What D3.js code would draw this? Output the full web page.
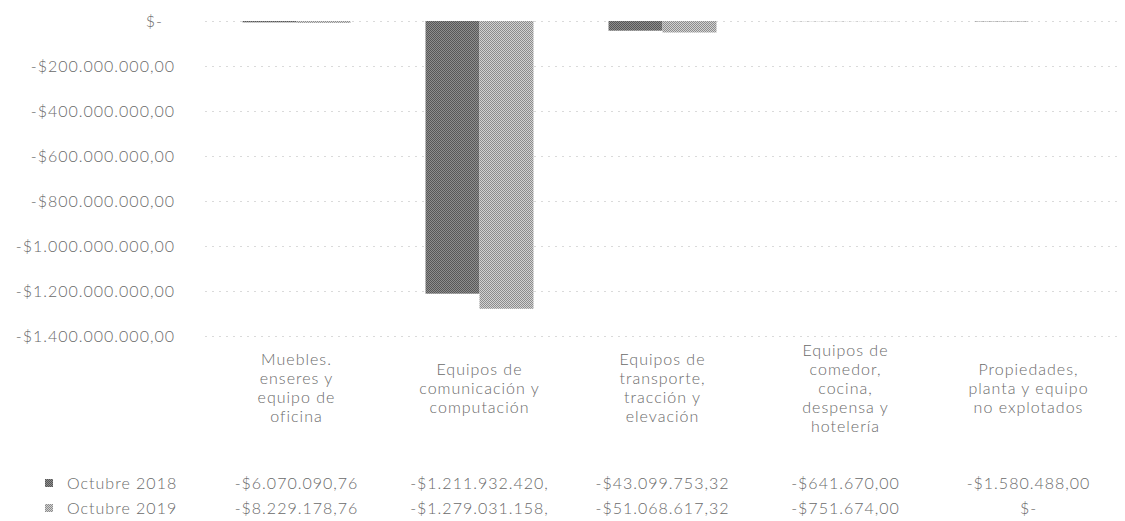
<!DOCTYPE html>
<html>
<head>
<meta charset="utf-8">
<script src="https://cdn.jsdelivr.net/npm/d3@7"></script>
<style>
  body { margin: 0; background: #fff; }
  text { font-family: Lato, "Open Sans", sans-serif; font-weight: 300; fill: #6a6a6a; letter-spacing: 1px; }
</style>
</head>
<body>
<div id="chart"></div>
<script>
// data
const categories = [
  "Muebles.\nenseres y\nequipo de\noficina",
  "Equipos de\ncomunicación y\ncomputación",
  "Equipos de\ntransporte,\ntracción y\nelevación",
  "Equipos de\ncomedor,\ncocina,\ndespensa y\nhotelería",
  "Propiedades,\nplanta y equipo\nno explotados"
];
const seriesNames = ["Octubre 2018", "Octubre 2019"];
const oct2018 = [-6070090.76, -1211932420.00, -43099753.32, -641670.00, -1580488.00];
const oct2019 = [-8229178.76, -1279031158.00, -51068617.32, -751674.00, 0];
const yTicks = [0, -200e6, -400e6, -600e6, -800e6, -1000e6, -1200e6, -1400e6];

const W = 1125, H = 521;
const margin = { left: 205, right: 5, top: 21 },
  plotBottom = 336;

const locale = d3.formatLocale({
  decimal: ",", thousands: ".", grouping: [3], currency: ["$", ""], minus: "-"
});
const money = locale.format("$,.2f");
// accounting style: zero shows as "$-"
function fmt(v) {
  return v === 0 ? "$-" : money(v);
}

const svg = d3.select("#chart").append("svg")
  .attr("width", W)
  .attr("height", H);

// halftone-ish fills like the scanned original
const defs = svg.append("defs");
const fills = [["#575757", "#8e8e8e"], ["#8c8c8c", "#d2d2d2"]];
fills.forEach(function(c, i) {
  const p = defs.append("pattern")
    .attr("id", "fill" + i)
    .attr("patternUnits", "userSpaceOnUse")
    .attr("width", 2).attr("height", 2);
  p.append("rect").attr("width", 2).attr("height", 2).attr("fill", c[1]);
  p.append("rect").attr("width", 1).attr("height", 1).attr("fill", c[0]);
  p.append("rect").attr("x", 1).attr("y", 1).attr("width", 1).attr("height", 1).attr("fill", c[0]);
});

const x = d3.scaleBand()
  .domain(d3.range(categories.length))
  .range([margin.left, W - margin.right])
  .paddingInner(0.41)
  .paddingOuter(0.205);

const xs = d3.scaleBand()
  .domain(d3.range(seriesNames.length))
  .range([0, x.bandwidth()]);

const y = d3.scaleLinear()
  .domain([-1400e6, 0])
  .range([plotBottom, margin.top]);

// gridlines
const grid = svg.append("g")
  .attr("transform", "translate(" + margin.left + ",0)")
  .call(d3.axisLeft(y).tickValues(yTicks).tickSize(-(W - margin.right - margin.left)).tickFormat(""));
grid.select(".domain").remove();
grid.selectAll("line")
  .attr("stroke", "#dadada")
  .attr("stroke-dasharray", "2,5");

// y labels
const yAxis = svg.append("g")
  .attr("transform", "translate(175,0)")
  .call(d3.axisLeft(y).tickValues(yTicks).tickSize(0).tickPadding(0)
    .tickFormat(d => d === 0 ? "$-" : fmt(d)));
yAxis.select(".domain").remove();
yAxis.selectAll("text")
  .style("font-size", "16px")
  .attr("dx", d => d === 0 ? -12 : 0);

// bars
const rows = [oct2018, oct2019];
rows.forEach(function(vals, s) {
  svg.append("g")
    .selectAll("rect")
    .data(vals)
    .join("rect")
      .attr("x", (d, i) => x(i) + xs(s))
      .attr("y", y(0))
      .attr("width", xs.bandwidth())
      .attr("height", d => y(d) - y(0))
      .attr("fill", "url(#fill" + s + ")");
});

// category labels (data table header)
const lineH = 19, labelMid = 388;
categories.forEach(function(c, i) {
  const lines = c.split("\n");
  const t = svg.append("text")
    .attr("text-anchor", "middle")
    .style("font-size", "16px");
  lines.forEach(function(l, k) {
    t.append("tspan")
      .attr("x", x(i) + x.bandwidth() / 2)
      .attr("y", labelMid + (k - (lines.length - 1) / 2) * lineH)
      .attr("dy", "0.35em")
      .text(l);
  });
});

// data table rows
const rowY = [483, 508];
rows.forEach(function(vals, s) {
  svg.append("rect")
    .attr("x", 45).attr("y", rowY[s] - 4)
    .attr("width", 8).attr("height", 8)
    .attr("fill", "url(#fill" + s + ")");
  svg.append("text")
    .attr("x", 67).attr("y", rowY[s]).attr("dy", "0.35em")
    .style("font-size", "16px")
    .text(seriesNames[s]);
  svg.append("g")
    .selectAll("text")
    .data(vals)
    .join("text")
      .attr("x", (d, i) => x(i) + x.bandwidth() / 2)
      .attr("y", rowY[s])
      .attr("dy", "0.35em")
      .attr("text-anchor", "middle")
      .style("font-size", "16px")
      // long numbers get cut off in the cell, as in the original
      .text(d => { const s = fmt(d); return s.length > 16 ? s.slice(0, 16) : s; });
});
</script>
</body>
</html>
